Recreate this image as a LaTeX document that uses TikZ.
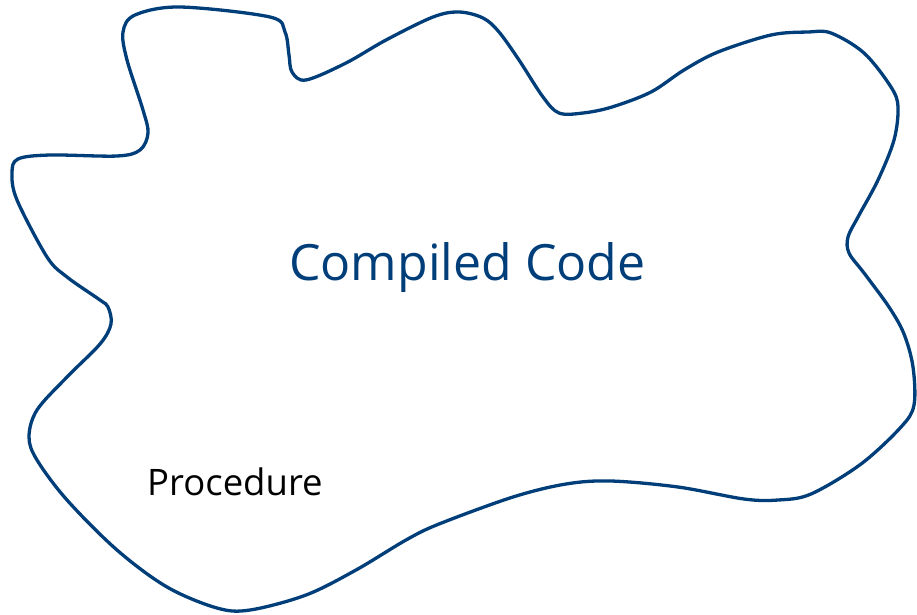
\documentclass[tikz,border=0pt]{standalone}
\usepackage{fontspec}
\setmainfont{Open Sans}
\definecolor{blobblue}{HTML}{003E7A}
\begin{document}
\begin{tikzpicture}[x=1pt,y=-1pt,
  blob/.style={draw=blobblue,line width=3.3pt,line join=round},
  bigtext/.style={text=blobblue,font=\fontsize{50}{60}\selectfont,inner sep=0pt},
  smalltext/.style={text=black,font=\fontsize{36.5}{42}\selectfont,inner sep=0pt}]
\useasboundingbox (0,0) rectangle (917,614);
\draw[blob] plot[smooth cycle,tension=0.55] coordinates {
 (180,7) (270,17) (285,32) (289,55) (292,72) (306,80) (346,63) (386,40) (433,17)
 (459,12) (483,18) (499,32) (519,60) (543,97) (559,113) (583,113) (612,107)
 (651,92) (684,70) (718,52) (771,35) (808,32) (831,33) (864,53) (891,87)
 (898,107) (894,140) (878,180) (858,217) (848,237) (849,253) (864,273)
 (889,307) (904,334) (913,367) (914,405) (901,427) (861,464) (811,494)
 (778,500) (744,499) (678,487) (611,481) (566,484) (513,497) (439,524)
 (406,540) (356,570) (306,595) (250,610) (217,608) (167,587) (117,550)
 (67,500) (37,460) (29,437) (37,410) (67,377) (100,344) (111,324) (108,307)
 (100,300) (67,277) (47,257) (17,200) (12,173) (18,159) (50,155) (117,156)
 (140,150) (148,133) (143,110) (127,60) (123,32) (135,15)};
\node[bigtext,anchor=base west] (cc) at (289,280) {Compiled Code};
\node[smalltext,anchor=base west] (proc) at (147,495) {Procedure};
\end{tikzpicture}
\end{document}
